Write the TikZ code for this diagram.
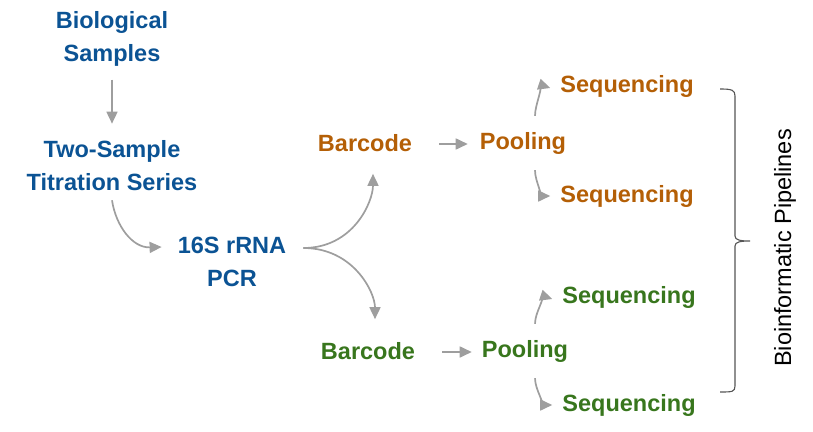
\documentclass[tikz,border=0pt]{standalone}
\usepackage{fontspec}
\setmainfont{Liberation Sans}
\usetikzlibrary{arrows.meta,calc}
\definecolor{cblue}{HTML}{0B5394}
\definecolor{corange}{HTML}{B45F06}
\definecolor{cgreen}{HTML}{38761D}
\definecolor{carrow}{HTML}{9E9E9E}
\definecolor{cbrace}{HTML}{555555}
\begin{document}
\begin{tikzpicture}[x=1pt,y=-1pt,
  lbl/.style={font=\fontsize{23.5}{33}\selectfont\bfseries, align=center, inner sep=0pt},
  blu/.style={lbl, text=cblue},
  org/.style={lbl, text=corange},
  grn/.style={lbl, text=cgreen},
  arr/.style={draw=carrow, line width=1.7pt, -{Triangle[length=12pt,width=11pt]}},
]
\useasboundingbox (0,0) rectangle (813,431);

\node[blu] (bio) at (112,39) {Biological\\Samples};
\node[blu] (two) at (112,166) {Two-Sample\\Titration Series};
\node[blu] (pcr) at (232,262) {16S rRNA\\PCR};

\node[org] (barO) at (365,143) {Barcode};
\node[org] (poolO) at (523,143) {Pooling};
\node[org] (seqO1) at (627,86) {Sequencing};
\node[org] (seqO2) at (627,196) {Sequencing};

\node[grn] (barG) at (368,351) {Barcode};
\node[grn] (poolG) at (525,351) {Pooling};
\node[grn] (seqG1) at (629,297) {Sequencing};
\node[grn] (seqG2) at (629,405) {Sequencing};

\node[font=\fontsize{23.5}{28}\selectfont, rotate=90, inner sep=0pt] (bp) at (785,248) {Bioinformatic Pipelines};

% arrows
\draw[arr] ($(bio.south)+(0,13)$) -- ($(two.north)+(0,-17)$);
\draw[arr] ($(two.south)+(0,9)$) .. controls ($(two.south)+(4,35)$) and ($(pcr.west)+(-45,-14)$) .. ($(pcr.west)+(-16,-15)$);
\coordinate (pcrout) at ($(pcr.east)+(17,-14)$);
\draw[arr] (pcrout) .. controls ($(pcrout)+(50,0)$) and ($(barO.south)+(8,50)$) .. ($(barO.south)+(8,22)$);
\draw[arr] (pcrout) .. controls ($(pcrout)+(50,0)$) and ($(barG.north)+(7,-50)$) .. ($(barG.north)+(7,-23)$);

\draw[arr] ($(barO.east)+(27,1)$) -- ($(poolO.west)+(-12,1)$);
\draw[arr] ($(barG.east)+(27,1)$) -- ($(poolG.west)+(-10,1)$);

\draw[arr] ($(poolO.north)+(12,-16)$) .. controls ($(poolO.north)+(12,-28)$) and ($(seqO1.west)+(-16,0)$) .. ($(seqO1.west)+(-10,2)$);
\draw[arr] ($(poolO.south)+(12,16)$) .. controls ($(poolO.south)+(12,28)$) and ($(seqO2.west)+(-16,0)$) .. ($(seqO2.west)+(-10,0)$);
\draw[arr] ($(poolG.north)+(10,-16)$) .. controls ($(poolG.north)+(10,-28)$) and ($(seqG1.west)+(-16,0)$) .. ($(seqG1.west)+(-10,2)$);
\draw[arr] ($(poolG.south)+(10,16)$) .. controls ($(poolG.south)+(10,28)$) and ($(seqG2.west)+(-16,0)$) .. ($(seqG2.west)+(-10,0)$);

% brace
\draw[cbrace, line width=1.1pt]
  (720,89) .. controls (732,89) and (735,90) .. (735,96)
  -- (735,236) .. controls (735,240) and (740,241) .. (750,241)
  .. controls (740,241) and (735,242) .. (735,246)
  -- (735,386) .. controls (735,392) and (732,392) .. (720,392);
\end{tikzpicture}
\end{document}
